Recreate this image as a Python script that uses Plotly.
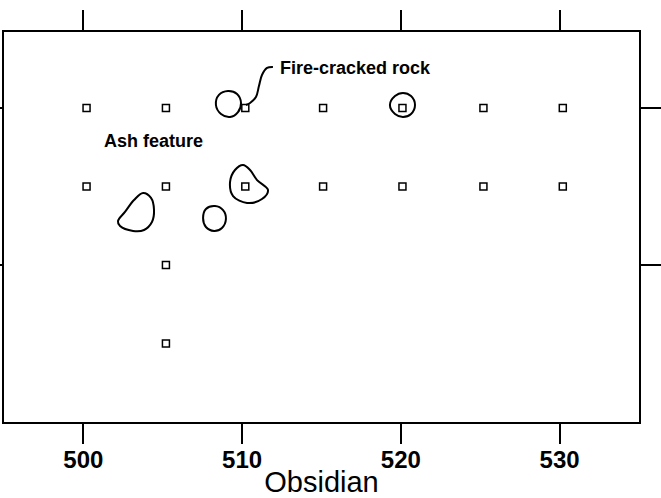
import plotly.graph_objects as go

# Sample grid: excavation units (easting) per row (northing)
row_north = [510, 505, 500, 495]
row_east = [
    [500.2, 505.2, 510.2, 515.1, 520.1, 525.2, 530.2],
    [500.2, 505.2, 510.2, 515.1, 520.1, 525.2, 530.2],
    [505.2],
    [505.2],
]

# Obsidian density contour outlines (easting, northing vertices)
contour_a_x = [508.35, 508.54, 509.11, 509.68, 509.93, 509.74, 509.24, 508.67]
contour_a_y = [510.19, 510.83, 511.08, 510.89, 510.32, 509.74, 509.43, 509.62]

contour_b_x = [519.31, 519.63, 520.13, 520.64, 520.89, 520.64, 520.13, 519.63]
contour_b_y = [510.19, 510.76, 510.96, 510.76, 510.19, 509.62, 509.43, 509.62]

contour_c_x = [510.06, 509.55, 509.24, 509.43, 510.31, 511.25, 511.63, 510.94, 510.50]
contour_c_y = [506.37, 506.05, 505.29, 504.39, 503.95, 504.20, 504.78, 505.41, 506.05]

contour_d_x = [503.76, 504.26, 504.45, 504.32, 503.82, 503.13, 502.31, 502.18, 502.62, 503.19]
contour_d_y = [504.59, 504.27, 503.50, 502.74, 502.23, 502.17, 502.48, 502.80, 503.38, 504.14]

contour_e_x = [507.54, 507.72, 508.29, 508.80, 508.98, 508.73, 508.23, 507.72]
contour_e_y = [502.99, 503.57, 503.76, 503.50, 502.93, 502.36, 502.17, 502.42]

# Leader from the label to the fire-cracked rock unit
leader_x = [511.94, 511.57, 511.25, 511.06, 510.87, 510.50, 510.24]
leader_y = [512.61, 512.55, 512.10, 511.40, 510.70, 510.32, 510.19]

x_ticks = [500, 510, 520, 530]
y_ticks = [500, 510]

FONT = "Liberation Sans, Arial, sans-serif"

fig = go.Figure()

for xs, ys in [(contour_a_x, contour_a_y), (contour_b_x, contour_b_y),
               (contour_c_x, contour_c_y), (contour_d_x, contour_d_y),
               (contour_e_x, contour_e_y)]:
    fig.add_trace(go.Scatter(
        x=xs + xs[:1], y=ys + ys[:1], mode="lines",
        line=dict(color="black", width=2, shape="spline", smoothing=1.0),
        hoverinfo="skip", showlegend=False))

fig.add_trace(go.Scatter(
    x=leader_x, y=leader_y, mode="lines",
    line=dict(color="black", width=2, shape="spline", smoothing=1.0),
    hoverinfo="skip", showlegend=False))

grid_x, grid_y = [], []
for n, easts in zip(row_north, row_east):
    for e in easts:
        grid_x.append(e)
        grid_y.append(n)

fig.add_trace(go.Scatter(
    x=grid_x, y=grid_y, mode="markers",
    marker=dict(symbol="square-open", size=7, color="black",
                line=dict(width=1.5, color="black")),
    showlegend=False))

fig.add_annotation(x=512.26, y=512.55, text="<b>Fire-cracked rock</b>",
                   showarrow=False, xanchor="left", yanchor="middle",
                   font=dict(family=FONT, size=18, color="black"))
fig.add_annotation(x=504.39, y=507.9, text="<b>Ash feature</b>",
                   showarrow=False, xanchor="center", yanchor="middle",
                   font=dict(family=FONT, size=18, color="black"))

fig.update_layout(
    width=661, height=498,
    margin=dict(l=4, r=22, t=32, b=76),
    paper_bgcolor="white", plot_bgcolor="white",
    showlegend=False,
    xaxis=dict(
        range=[495, 535], tickvals=x_ticks, ticktext=[str(v) for v in x_ticks],
        ticks="outside", ticklen=20, tickwidth=1.5, tickcolor="black",
        showline=True, linecolor="black", linewidth=2, mirror="ticks",
        showgrid=False, zeroline=False, automargin=False,
        ticklabelstandoff=-5,
        tickfont=dict(family=FONT, size=24, color="black", weight="bold"),
        title=dict(text="Obsidian", standoff=0,
                   font=dict(family=FONT, size=29, color="black")),
    ),
    yaxis=dict(
        range=[490, 514.84], tickvals=y_ticks, showticklabels=False,
        ticks="outside", ticklen=22, tickwidth=1.5, tickcolor="black",
        showline=True, linecolor="black", linewidth=2, mirror="ticks",
        showgrid=False, zeroline=False, automargin=False,
    ),
)

fig.write_html("out.html")
